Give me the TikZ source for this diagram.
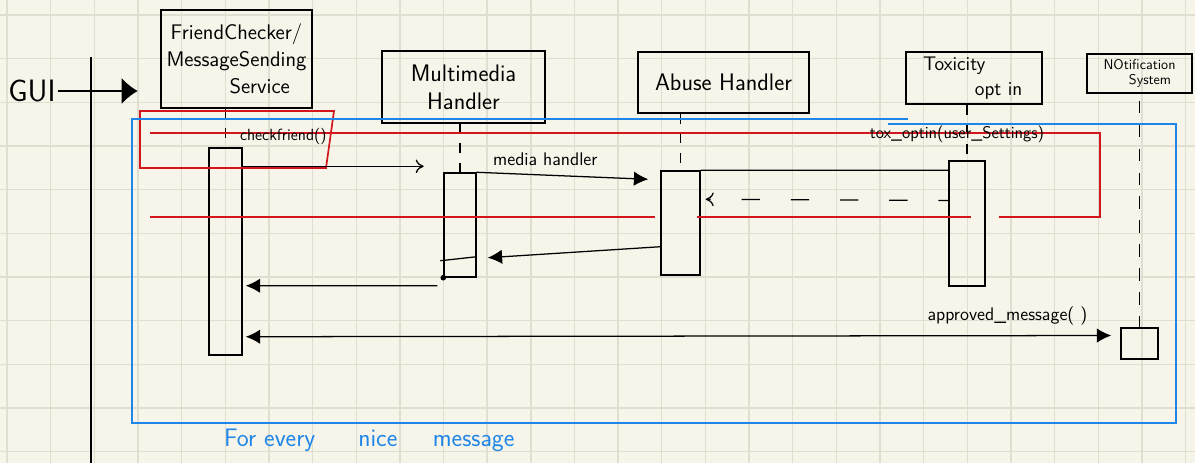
\documentclass[tikz,border=0pt]{standalone}
\usepackage{tikz}
\usetikzlibrary{calc,arrows.meta}
\definecolor{papel}{HTML}{F7F5EA}
\definecolor{rejilla}{HTML}{E0DED1}
\definecolor{rojo}{HTML}{D3161E}
\definecolor{azul}{HTML}{1E86E8}

\begin{document}
\begin{tikzpicture}[x=0.025cm,y=-0.025cm,line width=0.9pt,>={Latex[length=2.2mm]},
  caja/.style={draw,line width=1.1pt,align=center,inner sep=0pt,font=\sffamily},
  barra/.style={draw,line width=1pt,inner sep=0pt},
  vida/.style={dash pattern=on 7pt off 7pt},
  lleno/.style={-{Latex[length=3.6mm,width=3.6mm]}},
  abierto/.style={-{To[length=2mm,width=3.4mm]}},
  rotulo/.style={font=\sffamily\fontsize{#1}{#1}\selectfont,inner sep=1pt}]
  % papel cuadriculado
  \fill[papel] (0,0) rectangle (1195,463);
  \useasboundingbox (0,0) rectangle (1195,463);
  \foreach \i in {0,...,27} \draw[rejilla,line width=1pt] ({7+43.65*\i},0) -- ++(0,463);
  \foreach \j in {0,...,10} \draw[rejilla,line width=1pt] (0,{15+43.65*\j}) -- ++(1195,0);

  % GUI
  \node[rotulo=22] (gui) at (32,91) {GUI};
  \draw (91,57) -- (91,463);

  % cabeceras
  \node[caja,font=\sffamily\fontsize{15}{19}\selectfont,minimum width=3.775cm,minimum height=2.45cm] (fcBox) at (236.5,59) {FriendChecker/\\MessageSending\\\hspace*{2.2em}Service};
  \node[caja,font=\sffamily\fontsize{17}{20}\selectfont,minimum width=4.075cm,minimum height=1.8cm] (mmBox) at (463.5,87) {Multimedia\\Handler};
  \node[caja,font=\sffamily\fontsize{17}{20}\selectfont,minimum width=4.275cm,minimum height=1.525cm] (ahBox) at (723.5,82.5) {Abuse Handler};
  \node[caja,font=\sffamily\fontsize{14}{18}\selectfont,minimum width=3.4cm,minimum height=1.3cm] (txBox) at (974,78) {Toxicity\hspace*{2em}\\\hspace*{2.5em}opt in};
  \node[caja,font=\sffamily\fontsize{10}{11}\selectfont,minimum width=2.625cm,minimum height=0.975cm] (nsBox) at (1139.5,73.5) {NOtification\\\hspace*{1.5em}System};

  \draw[line width=1.1pt,-{Latex[length=4mm,width=6.5mm]},shorten >=16pt] (gui.east) -- (gui.east -| fcBox.west);

  % barras de activacion
  \node[barra,minimum width=0.825cm,minimum height=5.175cm] (fcAct) at (225.5,251.5) {};
  \node[barra,minimum width=0.8cm,minimum height=2.6cm] (mmAct) at (460,225) {};
  \node[barra,minimum width=0.975cm,minimum height=2.6cm] (ahAct) at (680.5,223) {};
  \node[barra,minimum width=0.9cm,minimum height=3.125cm] (txAct) at (967,223.5) {};
  \node[barra,minimum width=0.925cm,minimum height=0.775cm] (nsAct) at (1139.5,343.5) {};

  % lineas de vida
  \draw[vida] (fcBox.south -| fcAct.north) -- (fcAct.north);
  \draw[vida] (mmBox.south -| mmAct.north) -- (mmAct.north);
  \draw[vida] (ahBox.south -| ahAct.north) -- (ahAct.north);
  \draw[vida] (txBox.south -| txAct.north) -- (txAct.north);
  \draw[vida,dash pattern=on 9pt off 8pt] ($(nsBox.south -| nsAct.north)+(0,7)$) -- (nsAct.north);

  % marcos
  \draw[rojo,line width=1.2pt] (140,111) -- (334,111) -- (326,168) -- (140,168) -- cycle;
  \draw[rojo,line width=1.2pt] (150,133) -- (1100,133) -- (1100,217) -- (999,217);
  \draw[rojo,line width=1.2pt] (971,217) -- (697,217);
  \draw[rojo,line width=1.2pt] (655,217) -- (150,217);
  \draw[azul,line width=1.2pt] (908,119) -- (132,119) -- (132,423) -- (1176,423) -- (1176,124) -- (888,124);

  % mensajes
  \node[rotulo=11.5,anchor=west] (lblCheck) at (238,136) {checkfriend()};
  \draw[abierto] ($(fcAct.north east)+(0,19)$) -- ++(181,0);
  \draw[lleno] (mmAct.north east) -- ($(ahAct.north west)+(-12,9)$)
    node[pos=0.4,above=5pt,rotulo=13] (lblMedia) {media handler};
  \draw ($(ahAct.north east)$) -- ($(txAct.north west)+(0,10)$);
  \node[rotulo=12] (lblTox) at (957,134) {tox\_optin(user\_Settings)};
  \draw[abierto,dash pattern=on 13pt off 22pt,dash phase=6pt] ($(txAct.west)+(0,-23)$) -- ($(ahAct.north east)+(5,29)$);
  \draw[lleno] ($(ahAct.south west)+(0,-29)$) -- ($(mmAct.south east)+(11,-20)$);
  \draw ($(mmAct.south west)+(-3,-17)$) -- ($(mmAct.south east)+(0,-21)$);
  \fill (mmAct.south west) circle (2pt);
  \draw[lleno] ($(mmAct.south west)+(-6,8)$) -- ($(fcAct.south east)+(3,-70)$);
  \draw[{Latex[length=3.6mm,width=3.6mm]}-{Latex[length=3.6mm,width=3.6mm]}] ($(fcAct.south east)+(3,-19)$) -- ($(nsAct.west)+(-9,-8)$)
    node[pos=0.88,above=6pt,rotulo=13] (lblApproved) {approved\_message( )};

  % bucle
  \node[rotulo=18,text=azul,anchor=west] (lblLoop) at (222,440) {For every\hspace{1.7em}nice\hspace{1.4em}message};
\end{tikzpicture}
\end{document}
